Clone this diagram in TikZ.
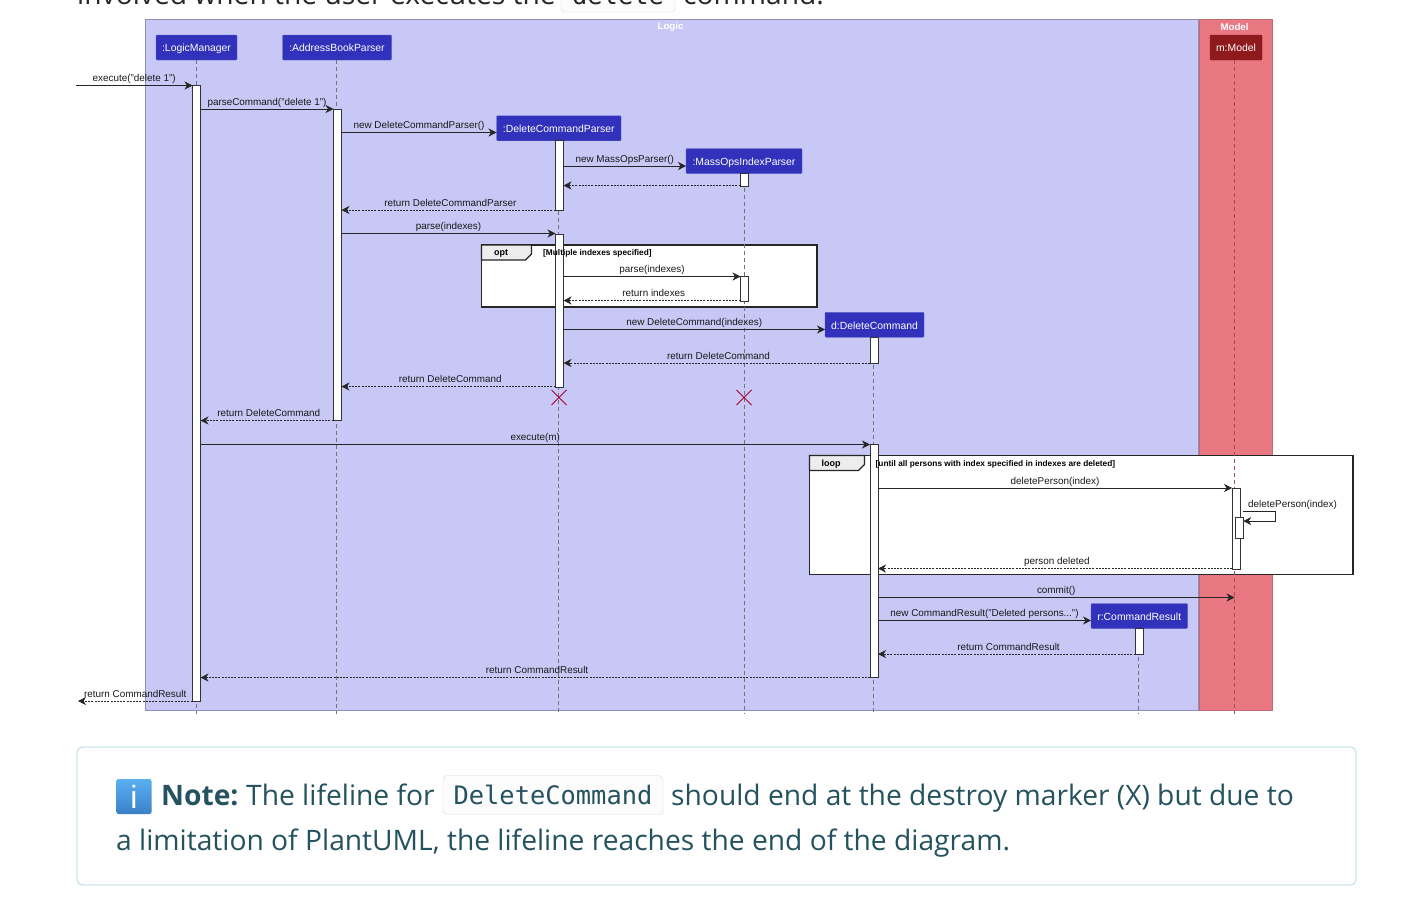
\documentclass[tikz,border=0pt]{standalone}
\usepackage{fontspec}
\setmainfont{Liberation Sans}
\newfontfamily\notefont{Open Sans}
\newfontfamily\codefont{DejaVu Sans Mono}
\usetikzlibrary{arrows.meta,calc}
\definecolor{logicbg}{HTML}{C7C8F5}
\definecolor{logicline}{HTML}{8F8FB8}
\definecolor{modelbg}{HTML}{E97883}
\definecolor{modelline}{HTML}{C06A75}
\definecolor{actorfill}{HTML}{3131BB}
\definecolor{modelfill}{HTML}{8F1A1E}
\definecolor{notetext}{HTML}{24525F}
\definecolor{noteline}{HTML}{CDE6EC}
\definecolor{crosscol}{HTML}{A80036}
\definecolor{icontop}{HTML}{5AB0F0}
\definecolor{iconbottom}{HTML}{3A80C8}
\tikzset{
	actorbox/.style={draw=actorfill!80!white, fill=actorfill, rounded corners=1pt, inner sep=0pt, outer sep=0pt, minimum height=25pt, text=white, text height=8.8pt, text depth=0pt, font=\fontsize{10.4}{12}\selectfont},
	barbox/.style={draw=black!80, fill=white, line width=.7pt, inner sep=0pt, outer sep=0pt, minimum width=8pt, anchor=north},
	lifeline/.style={draw=black!55, line width=.7pt, dash pattern=on 4pt off 3pt},
	groupbox/.style={line width=1pt, inner sep=0pt, outer sep=0pt, anchor=north west, minimum height=690.5pt},
	framebox/.style={draw=black!85, fill=white, line width=1.8pt, inner sep=0pt, outer sep=0pt, anchor=north west},
	tabshape/.style={draw=black!85, fill=black!7, line width=1.1pt},
	tabtext/.style={font=\fontsize{9}{11}\selectfont\bfseries, inner sep=0pt},
	guardtext/.style={font=\fontsize{8.3}{10}\selectfont\bfseries, inner sep=0pt, anchor=west},
	msg/.style={draw=black!85, line width=.7pt, -{Stealth[length=8pt,width=8pt,inset=2.5pt]}},
	retmsg/.style={msg, dash pattern=on 2pt off 1.2pt},
	msgtext/.style={font=\fontsize{9.9}{11}\selectfont, text=black!90, inner sep=0pt, above=1.2pt, text height=7.2pt, text depth=2pt},
	rettext/.style={msgtext, xshift=1.8pt},
	cross/.style={draw=crosscol, line width=1pt},
	grouptitle/.style={font=\fontsize{9.7}{10}\selectfont\bfseries, text=white, inner sep=0pt},
	notetxt/.style={font=\notefont\fontsize{28.2}{34}\selectfont, text=notetext, inner sep=0pt, anchor=base west},
	toptxt/.style={font=\notefont\fontsize{28.2}{34}\selectfont, text=black!85, inner sep=0pt, anchor=base west},
	codebox/.style={draw=black!14, fill=black!1, rounded corners=4pt, inner sep=0pt, font=\codefont\fontsize{25.4}{30}\selectfont},
}
\begin{document}
\begin{tikzpicture}[x=1pt, y=-1pt]
	\useasboundingbox (0,0) rectangle (1402,910);

%% Page text above the diagram
	\node[toptxt] (topa) at (77,5) {involved when the user executes the};
	\node[codebox, text=black!85, minimum width=114pt, minimum height=34pt] (topcode) at (618,-5) {delete};
	\node[toptxt] (topb) at (683,5) {command.};

%% Groups
	\node[groupbox, draw=logicline, fill=logicbg, minimum width=1052.5pt] (logic) at (145.5,19.5) {};
	\node[groupbox, draw=modelline, fill=modelbg, minimum width=73pt] (model) at (1199,19.5) {};
	\node[grouptitle] (logict) at (670.5,27) {Logic};
	\node[grouptitle] (modelt) at (1234.5,27) {Model};

%% Frames
	\node[framebox, minimum width=335.5pt, minimum height=62pt] (optf) at (481.5,245) {};
	\draw[tabshape] (optf.north west) -- ++(50,0) -- ++(0,9) -- ++(-6,6) -- ++(-44,0) -- cycle;
	\node[tabtext] (optt) at (501,253.5) {opt};
	\node[framebox, minimum width=543.5pt, minimum height=119pt] (loopf) at (809.5,455.5) {};
	\draw[tabshape] (loopf.north west) -- ++(55,0) -- ++(0,9) -- ++(-6,6) -- ++(-49,0) -- cycle;
	\node[tabtext] (loopt) at (831,464.5) {loop};

%% Actors
	\node[actorbox, minimum width=81pt] (lm) at (196.5,47.5) {:LogicManager};
	\node[actorbox, minimum width=109pt] (abp) at (337,47.5) {:AddressBookParser};
	\node[actorbox, minimum width=124.5pt] (dcp) at (558.75,128.25) {:DeleteCommandParser};
	\node[actorbox, minimum width=116pt] (mop) at (744,161) {:MassOpsIndexParser};
	\node[actorbox, minimum width=99pt] (dc) at (874.5,324.75) {d:DeleteCommand};
	\node[actorbox, minimum width=96.5pt] (cr) at (1139.25,616) {r:CommandResult};
	\node[actorbox, draw=modelfill, fill=modelfill, minimum width=52pt] (mm) at (1236,47.5) {m:Model};

%% Lifelines
	\coordinate (lmend) at (196.5,714);
	\coordinate (abpend) at (336.5,714);
	\coordinate (dcpend) at (558.5,714);
	\coordinate (mopend) at (744,714);
	\coordinate (dcend) at (873.5,714);
	\coordinate (crend) at (1138,714);
	\coordinate (mmend) at (1234.5,714);
	\draw[lifeline] (lm.south -| lmend) -- (lmend);
	\draw[lifeline] (abp.south -| abpend) -- (abpend);
	\draw[lifeline] (dcp.south -| dcpend) -- (dcpend);
	\draw[lifeline] (mop.south -| mopend) -- (mopend);
	\draw[lifeline] (dc.south -| dcend) -- (dcend);
	\draw[lifeline] (cr.south -| crend) -- (crend);
	\draw[lifeline, draw=modelfill!35!black!40!modelbg] (mm.south -| mmend) -- (mmend);

%% Activation bars
	\node[barbox, minimum height=615.5pt] (lmbar) at (196.5,85.5) {};
	\node[barbox, minimum height=311pt] (abpbar) at (337.5,109.5) {};
	\node[barbox, minimum height=69.5pt] (dcpbara) at (559.5,140.5) {};
	\node[barbox, minimum height=153pt] (dcpbarb) at (559.5,234) {};
	\node[barbox, minimum height=13pt] (mopbara) at (744.5,173) {};
	\node[barbox, minimum height=24.5pt] (mopbarb) at (744.5,276.5) {};
	\node[barbox, minimum height=26pt] (dcbara) at (874,337) {};
	\node[barbox, minimum height=233pt] (dcbarb) at (874,444.5) {};
	\node[barbox, minimum height=81pt] (mmbara) at (1236,488) {};
	\node[barbox, minimum height=21pt] (mmbarb) at (1239.25,517.5) {};
	\node[barbox, minimum height=25.5pt] (crbar) at (1139.5,628.5) {};

%% Frame guards
	\node[guardtext] (optg) at (543,253) {[Multiple indexes specified]};
	\node[guardtext] (loopg) at (875.5,464) {[until all persons with index specified in indexes are deleted]};

%% Message rows
	\foreach \rname/\ry in {ra/85.5,rb/109,rc/132.5,rd/166,re/185.5,rf/210,rg/233.5,rh/276.5,ri/300.5,rj/329.5,rk/363,rl/386.5,rm/420.5,rn/444.5,ro/488,rp/511.5,rq/521,rr/568.5,rs/597.5,rt/620.5,ru/654,rv/677.5,rw/701}
		\coordinate (\rname) at (0,\ry);
	\coordinate (startin) at (76,85.5);
	\coordinate (endout) at (78,701);

%Messages
	\path (startin) edge[msg] node[msgtext, midway] {execute("delete 1")} (lmbar.west |- ra);
	\path (lmbar.east |- rb) edge[msg] node[msgtext, midway] {parseCommand("delete 1")} (abpbar.west |- rb);
	\path (abpbar.east |- rc) edge[msg] node[msgtext, midway] {new DeleteCommandParser()} (dcp.west |- rc);
	\path (dcpbara.east |- rd) edge[msg] node[msgtext, midway] {new MassOpsParser()} (mop.west |- rd);
	\path (mopbara.west |- re) edge[retmsg] (dcpbara.east |- re);
	\path (dcpbara.west |- rf) edge[retmsg] node[rettext, midway] {return DeleteCommandParser} (abpbar.east |- rf);
	\path (abpbar.east |- rg) edge[msg] node[msgtext, midway] {parse(indexes)} (dcpbarb.west |- rg);
	\path (dcpbarb.east |- rh) edge[msg] node[msgtext, midway] {parse(indexes)} (mopbarb.west |- rh);
	\path (mopbarb.west |- ri) edge[retmsg] node[rettext, midway] {return indexes} (dcpbarb.east |- ri);
	\path (dcpbarb.east |- rj) edge[msg] node[msgtext, midway] {new DeleteCommand(indexes)} (dc.west |- rj);
	\path (dcbara.west |- rk) edge[retmsg] node[rettext, midway] {return DeleteCommand} (dcpbarb.east |- rk);
	\path (dcpbarb.west |- rl) edge[retmsg] node[rettext, midway] {return DeleteCommand} (abpbar.east |- rl);
	\path (abpbar.west |- rm) edge[retmsg] node[rettext, midway] {return DeleteCommand} (lmbar.east |- rm);
	\path (lmbar.east |- rn) edge[msg] node[msgtext, midway] {execute(m)} (dcbarb.west |- rn);
	\path (dcbarb.east |- ro) edge[msg] node[msgtext, midway] {deletePerson(index)} (mmbara.west |- ro);
	\draw[msg] (mmbarb.east |- rp) -- ++(32,0) |- (mmbarb.east |- rq);
	\node[msgtext, above=0pt, anchor=south west] (selflabel) at (1248,510.5) {deletePerson(index)};
	\path (mmbara.west |- rr) edge[retmsg] node[rettext, midway] {person deleted} (dcbarb.east |- rr);
	\path (dcbarb.east |- rs) edge[msg] node[msgtext, midway] {commit()} (mmend |- rs);
	\path (dcbarb.east |- rt) edge[msg] node[msgtext, midway] {new CommandResult("Deleted persons...")} (cr.west |- rt);
	\path (crbar.west |- ru) edge[retmsg] node[rettext, midway] {return CommandResult} (dcbarb.east |- ru);
	\path (dcbarb.west |- rv) edge[retmsg] node[rettext, midway] {return CommandResult} (lmbar.east |- rv);
	\path (lmbar.west |- rw) edge[retmsg] node[msgtext, midway] {return CommandResult} (endout);

%% Destroy markers
	\coordinate (xa) at (559,397.5);
	\coordinate (xb) at (744,397.5);
	\foreach \c in {xa,xb}{
		\draw[cross] ($(\c)+(-7.5,-7.5)$) -- ($(\c)+(7.5,7.5)$);
		\draw[cross] ($(\c)+(-7.5,7.5)$) -- ($(\c)+(7.5,-7.5)$);
	}

%% Note panel
	\node[draw=noteline, fill=white, line width=1.4pt, rounded corners=6pt, inner sep=0pt, outer sep=0pt, anchor=north west, minimum width=1279pt, minimum height=138pt] (note) at (77,747) {};
	\node[top color=icontop, bottom color=iconbottom, rounded corners=2pt, inner sep=0pt, minimum width=35pt, minimum height=35pt, text=white, font=\fontsize{32}{34}\selectfont] (icon) at (134,796.5) {i};
	\node[notetxt, font=\notefont\bfseries\fontsize{28.2}{34}\selectfont] (notea) at (161,805.5) {Note:};
	\node[notetxt] (noteb) at (246,805.5) {The lifeline for};
	\node[codebox, text=notetext, minimum width=220pt, minimum height=39pt] (notec) at (553,795) {DeleteCommand};
	\node[notetxt] (noted) at (671,805.5) {should end at the destroy marker (X) but due to};
	\node[notetxt] (notee) at (116,850.5) {a limitation of PlantUML, the lifeline reaches the end of the diagram.};
\end{tikzpicture}
\end{document}
